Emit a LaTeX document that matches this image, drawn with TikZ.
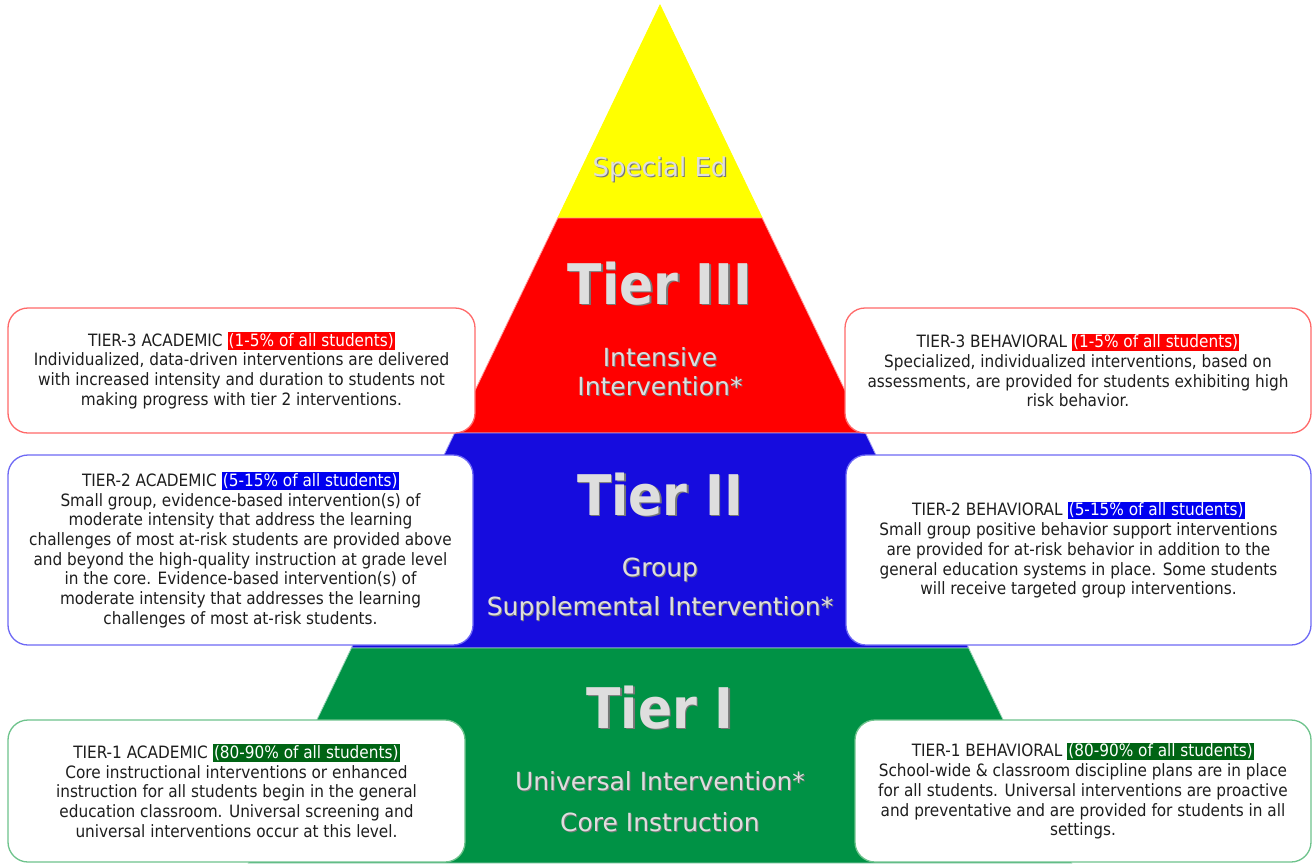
\documentclass[tikz,border=0pt]{standalone}
\usepackage{fontspec}
\setmainfont{DejaVu Sans Condensed}
\newfontfamily\bigfont{DejaVu Sans}
\newfontfamily\tierfont{DejaVu Sans Condensed Bold}
\definecolor{pyYellow}{RGB}{255,255,0}
\definecolor{pyRed}{RGB}{255,0,0}
\definecolor{pyBlue}{RGB}{22,12,222}
\definecolor{pyGreen}{RGB}{0,146,69}
\definecolor{bdRed}{RGB}{255,105,105}
\definecolor{bdBlue}{RGB}{110,105,245}
\definecolor{bdGreen}{RGB}{110,195,140}
\definecolor{hlRed}{RGB}{255,0,0}
\definecolor{hlBlue}{RGB}{0,0,240}
\definecolor{hlGreen}{RGB}{0,100,20}
\definecolor{bodytext}{RGB}{30,30,30}
\definecolor{labeltext}{RGB}{222,222,222}
\definecolor{labelshadow}{RGB}{120,120,120}
\newcommand{\pct}[2]{{\setlength{\fboxsep}{1.2pt}\colorbox{#1}{\textcolor{white}{#2}}}}
\newcommand{\shtext}[2]{\leavevmode\rlap{\kern#1\raisebox{-#1}{\textcolor{labelshadow}{#2}}}#2}
\begin{document}
\begin{tikzpicture}[x=1pt,y=-1pt,
  band/.style={line width=0.8pt},
  infobox/.style={draw, line width=1.3pt, rounded corners=20pt, fill=white, align=center,
    inner sep=0pt, font=\fontsize{17}{19.7}\selectfont, text=bodytext},
  tierlabel/.style={font=\tierfont\fontsize{56}{60}\selectfont, text=labeltext, inner sep=0pt, anchor=base},
  sublabel/.style={font=\bigfont\fontsize{25}{27}\selectfont, text=labeltext, inner sep=0pt, anchor=base}]
\useasboundingbox (0,0) rectangle (1313,863);
\fill[white] (0,0) rectangle (1313,863);
% pyramid bands
\filldraw[band, fill=pyYellow, draw=pyYellow] (660,5) -- (762.2,218) -- (557.8,218) -- cycle;
\filldraw[band, fill=pyRed, draw=white!60!pyRed] (557.8,218) -- (762.2,218) -- (865.4,433) -- (454.6,433) -- cycle;
\filldraw[band, fill=pyBlue, draw=white!60!pyBlue] (454.6,433) -- (865.4,433) -- (968.6,648) -- (351.4,648) -- cycle;
\filldraw[band, fill=pyGreen, draw=white!60!pyGreen] (351.4,648) -- (968.6,648) -- (1071.8,863) -- (248.2,863) -- cycle;
% info boxes
\node[infobox, draw=bdRed, minimum width=467pt, minimum height=125pt] (t3a) at (241.5,370.5)
  {TIER-3 ACADEMIC \pct{hlRed}{(1-5\% of all students)}\\Individualized, data-driven interventions are delivered\\with increased intensity and duration to students not\\making progress with tier 2 interventions.};
\node[infobox, draw=bdRed, minimum width=466pt, minimum height=125pt] (t3b) at (1078,370.5)
  {TIER-3 BEHAVIORAL \pct{hlRed}{(1-5\% of all students)}\\Specialized, individualized interventions, based on\\assessments, are provided for students exhibiting high\\risk behavior.};
\node[infobox, draw=bdBlue, minimum width=465pt, minimum height=190pt] (t2a) at (240.5,550)
  {TIER-2 ACADEMIC \pct{hlBlue}{(5-15\% of all students)}\\Small group, evidence-based intervention(s) of\\moderate intensity that address the learning\\challenges of most at-risk students are provided above\\and beyond the high-quality instruction at grade level\\in the core. Evidence-based intervention(s) of\\moderate intensity that addresses the learning\\challenges of most at-risk students.};
\node[infobox, draw=bdBlue, minimum width=465pt, minimum height=190pt] (t2b) at (1078.5,550)
  {TIER-2 BEHAVIORAL \pct{hlBlue}{(5-15\% of all students)}\\Small group positive behavior support interventions\\are provided for at-risk behavior in addition to the\\general education systems in place. Some students\\will receive targeted group interventions.};
\node[infobox, draw=bdGreen, minimum width=457pt, minimum height=142pt] (t1a) at (236.5,791)
  {TIER-1 ACADEMIC \pct{hlGreen}{(80-90\% of all students)}\\Core instructional interventions or enhanced\\instruction for all students begin in the general\\education classroom. Universal screening and\\universal interventions occur at this level.};
\node[infobox, draw=bdGreen, minimum width=456pt, minimum height=142pt] (t1b) at (1083,791)
  {TIER-1 BEHAVIORAL \pct{hlGreen}{(80-90\% of all students)}\\School-wide \& classroom discipline plans are in place\\for all students. Universal interventions are proactive\\and preventative and are provided for students in all\\settings.};
% pyramid labels
\node[sublabel, font=\bigfont\fontsize{26}{28}\selectfont] (sped) at (660,176) {\shtext{1.2pt}{Special Ed}};
\node[tierlabel] (tier3) at (660,304) {\shtext{1.6pt}{Tier III}};
\node[sublabel] (t3s1) at (660,366) {\shtext{1pt}{Intensive}};
\node[sublabel] (t3s2) at (660,395) {\shtext{1pt}{Intervention*}};
\node[tierlabel] (tier2) at (660,515) {\shtext{1.6pt}{Tier II}};
\node[sublabel] (t2s1) at (660,576) {\shtext{1pt}{Group}};
\node[sublabel] (t2s2) at (660,615) {\shtext{1pt}{Supplemental Intervention*}};
\node[tierlabel] (tier1) at (660,728) {\shtext{1.6pt}{Tier I}};
\node[sublabel] (t1s1) at (660,790) {\shtext{1pt}{Universal Intervention*}};
\node[sublabel] (t1s2) at (660,831) {\shtext{1pt}{Core Instruction}};
\end{tikzpicture}
\end{document}
